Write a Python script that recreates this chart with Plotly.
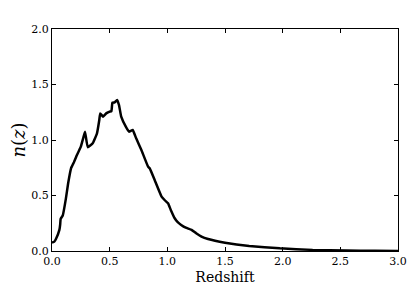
import plotly.graph_objects as go

redshift = [0.0, 0.02, 0.035, 0.064, 0.071, 0.075, 0.093, 0.12, 0.14, 0.165, 0.19, 0.21, 0.25, 0.27,
            0.286, 0.31, 0.353, 0.39, 0.41, 0.418, 0.443, 0.47, 0.50, 0.515, 0.524, 0.544, 0.564,
            0.581, 0.60, 0.64, 0.668, 0.70, 0.73, 0.775, 0.833, 0.847, 0.89, 0.95, 0.98, 1.006, 1.03,
            1.064, 1.09, 1.12, 1.16, 1.21, 1.25, 1.296, 1.353, 1.50, 1.71, 1.975, 2.26, 2.55, 2.8, 3.0]
nz = [0.075, 0.084, 0.11, 0.19, 0.24, 0.29, 0.32, 0.47, 0.61, 0.745, 0.80, 0.85, 0.94, 1.015,
      1.075, 0.935, 0.97, 1.06, 1.18, 1.24, 1.21, 1.24, 1.255, 1.26, 1.336, 1.34, 1.36,
      1.315, 1.21, 1.12, 1.075, 1.09, 1.015, 0.91, 0.76, 0.745, 0.64, 0.49, 0.455, 0.43, 0.37,
      0.295, 0.26, 0.235, 0.21, 0.19, 0.16, 0.13, 0.108, 0.075, 0.045, 0.024, 0.01, 0.004, 0.002, 0.0]

x_ticks = [0.0, 0.5, 1.0, 1.5, 2.0, 2.5, 3.0]
y_ticks = [0.0, 0.5, 1.0, 1.5, 2.0]

fig = go.Figure()
fig.add_trace(go.Scatter(x=redshift, y=nz, mode="lines", line_shape="spline",
                         line=dict(color="black", width=2.5, smoothing=0.3), showlegend=False))

font = "DejaVu Serif"
fig.update_layout(
    width=407, height=289,
    margin=dict(l=44, r=17, t=21, b=46, autoexpand=False),
    paper_bgcolor="white", plot_bgcolor="white",
    font=dict(family=font, color="black", size=11),
    xaxis=dict(range=[0, 3], tickvals=x_ticks, tickformat=".1f", automargin=False,
               ticks="inside", ticklen=4, tickcolor="black", mirror="ticks",
               showline=True, linecolor="black", linewidth=1, showgrid=False, zeroline=False,
               title=dict(text="Redshift", font=dict(family=font, size=14), standoff=4),
               tickfont=dict(family=font, size=11)),
    yaxis=dict(range=[0, 2], tickvals=y_ticks, tickformat=".1f", automargin=False,
               ticks="inside", ticklen=4, tickcolor="black", mirror="ticks",
               showline=True, linecolor="black", linewidth=1, showgrid=False, zeroline=False,
               title=dict(text="<i>n</i>(<i>z</i>)", font=dict(family=font, size=18), standoff=8),
               tickfont=dict(family=font, size=11)),
)
fig.write_html("out.html")
